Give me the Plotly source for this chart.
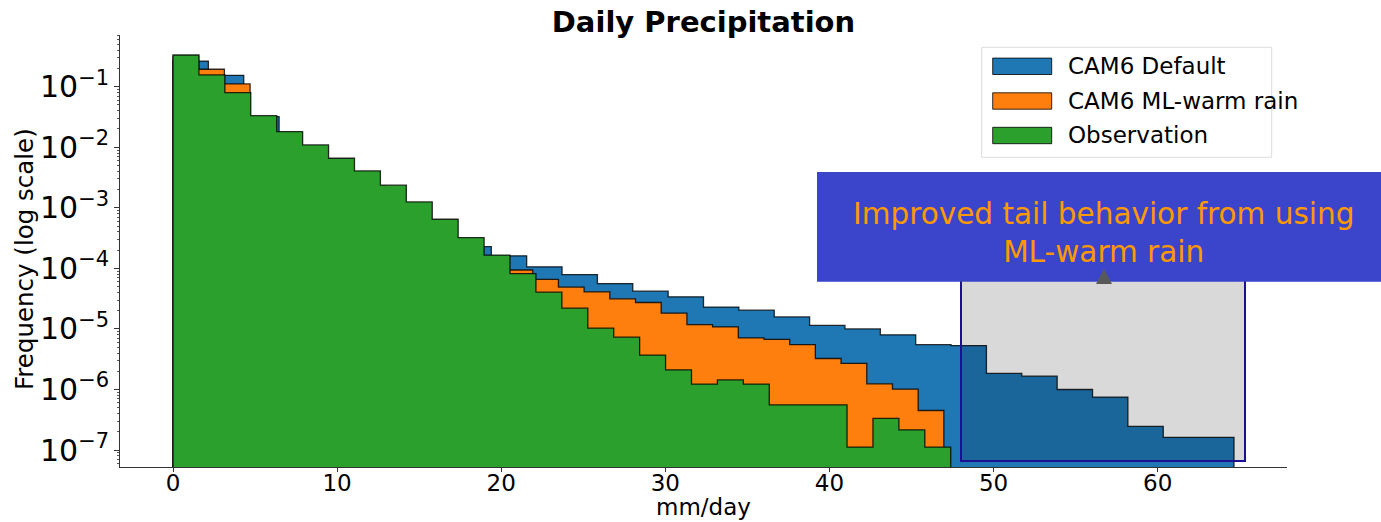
import numpy as np
import plotly.graph_objects as go

# ---------------- data ----------------
series_names = ["CAM6 Default", "CAM6 ML-warm rain", "Observation"]
series_colors = ["#1f77b4", "#ff7f0e", "#2ca02c"]

# each histogram uses 30 equal bins from 0 to its own maximum (mm/day)
default_max = 64.65
mlwarm_max = 46.97
obs_max = 47.39

default_freq = [0.265, 0.154, 0.032, 0.0105, 0.0062, 0.0023, 0.0012, 5.5e-4, 2.29e-4, 1.61e-4,
                1.06e-4, 7.9e-5, 5.6e-5, 4.2e-5, 3.39e-5, 2.29e-5, 2.04e-5, 1.58e-5, 1.14e-5, 1.0e-5,
                8.0e-6, 5.5e-6, 5.3e-6, 1.84e-6, 1.66e-6, 1.0e-6, 7.5e-7, 2.45e-7, 1.62e-7, 1.62e-7]

mlwarm_freq = [0.32, 0.194, 0.111, 0.031, 0.017, 0.0103, 0.0062, 0.0038, 0.0022, 0.00118,
               6.1e-4, 3.0e-4, 1.55e-4, 9.4e-5, 6.6e-5, 4.9e-5, 4.1e-5, 3.14e-5, 2.73e-5, 1.82e-5,
               1.18e-5, 1.08e-5, 7.1e-6, 6.7e-6, 5.5e-6, 3.25e-6, 2.69e-6, 1.24e-6, 1.01e-6, 4.5e-7]

obs_freq = [0.333, 0.156, 0.0796, 0.0332, 0.0181, 0.0109, 0.00658, 0.00406, 0.00236, 0.00125,
            6.47e-4, 3.22e-4, 1.65e-4, 8.2e-5, 4.04e-5, 2.2e-5, 1.03e-5, 7.3e-6, 3.7e-6, 2.11e-6,
            1.23e-6, 1.44e-6, 1.23e-6, 5.58e-7, 5.58e-7, 5.58e-7, 1.12e-7, 3.33e-7, 2.16e-7, 1.12e-7]

x_tick_vals = [0, 10, 20, 30, 40, 50, 60]

annotation_text = "Improved tail behavior from using<br>ML-warm rain"

# ---------------- figure ----------------
W, H = 1381, 522
ML, MR, MT, MB = 120, 94, 35, 55
PW, PH = W - ML - MR, H - MT - MB


def px(xp):
    return (xp - ML) / PW


def py(yp):
    return (H - MB - yp) / PH


BASE = 1e-9  # below the visible axis range, stepfilled baseline


def step_polygon(vmax, vals):
    edges = np.linspace(0, vmax, len(vals) + 1)
    xs, ys = [edges[0]], [BASE]
    for i, v in enumerate(vals):
        xs += [edges[i], edges[i + 1]]
        ys += [v, v]
    xs += [edges[-1], edges[0]]
    ys += [BASE, BASE]
    return xs, ys


fig = go.Figure()
for name, color, vmax, vals in zip(series_names, series_colors,
                                   [default_max, mlwarm_max, obs_max],
                                   [default_freq, mlwarm_freq, obs_freq]):
    xs, ys = step_polygon(vmax, vals)
    fig.add_trace(go.Scatter(x=xs, y=ys, mode="lines", fill="toself", fillcolor=color,
                             line=dict(color="rgba(0,0,0,0.8)", width=1.3),
                             name=name, showlegend=False, hoverinfo="skip"))

fig.update_layout(
    width=W, height=H,
    margin=dict(l=ML, r=MR, t=MT, b=MB, autoexpand=False),
    paper_bgcolor="white", plot_bgcolor="white",
    font=dict(family="DejaVu Sans", color="black"),
    title=dict(text="<b>Daily Precipitation</b>", x=(ML + PW / 2) / W, xanchor="center",
               y=1 - 22 / H, yanchor="middle", font=dict(size=29, family="DejaVu Sans")),
    showlegend=False,
)

fig.update_xaxes(range=[-3.23, 67.88], tickvals=x_tick_vals, ticks="outside", ticklen=4,
                 ticklabelstandoff=-9,
                 tickcolor="#333", showline=True, linecolor="#333", linewidth=1,
                 showgrid=False, zeroline=False, tickfont=dict(size=23), automargin=False)
fig.update_yaxes(type="log", range=[-7.28, -0.147], dtick=1, exponentformat="power",
                 ticks="outside", ticklen=5, tickcolor="#333",
                 minor=dict(ticks="outside", ticklen=2.5, tickcolor="#555", showgrid=False),
                 showline=True, linecolor="#333", linewidth=1, showgrid=False, zeroline=False,
                 tickfont=dict(size=24), automargin=False)

shapes = []
# highlighted tail region
shapes.append(dict(type="rect", xref="paper", yref="paper",
                   x0=px(961), x1=px(1245), y0=py(461), y1=py(268.3),
                   fillcolor="rgba(0,0,0,0.15)", line=dict(color="rgb(26,16,145)", width=2),
                   layer="above"))
# annotation box
shapes.append(dict(type="rect", xref="paper", yref="paper",
                   x0=px(817), x1=px(1381), y0=py(281.7), y1=py(172),
                   fillcolor="rgb(58,69,204)", line=dict(width=0), layer="above"))
# arrow head
shapes.append(dict(type="path", xref="paper", yref="paper",
                   path=f"M {px(1096)} {py(284)} L {px(1104)} {py(269)} L {px(1112)} {py(284)} Z",
                   fillcolor="rgb(89,89,89)", line=dict(width=0), layer="above"))

# legend
shapes.append(dict(type="rect", xref="paper", yref="paper",
                   x0=px(981.7), x1=px(1271.7), y0=py(157.3), y1=py(47.3),
                   fillcolor="rgba(255,255,255,0.9)", line=dict(color="#dcdcdc", width=1),
                   layer="above"))
row_y = [66.3, 101.0, 135.5]
annotations = []
for name, color, yc in zip(series_names, series_colors, row_y):
    shapes.append(dict(type="rect", xref="paper", yref="paper",
                       x0=px(992.7), x1=px(1051.7), y0=py(yc + 8.2), y1=py(yc - 8.2),
                       fillcolor=color, line=dict(color="rgba(0,0,0,0.8)", width=1),
                       layer="above"))
    annotations.append(dict(xref="paper", yref="paper", x=px(1066), y=py(yc),
                            xanchor="left", yanchor="middle", text=name, showarrow=False,
                            font=dict(size=23, family="DejaVu Sans", color="black")))

# axis titles, placed like the reference
annotations.append(dict(xref="paper", yref="paper", x=px(24), y=py(259),
                        xanchor="center", yanchor="middle", text="Frequency (log scale)",
                        textangle=-90, showarrow=False,
                        font=dict(size=24.5, family="DejaVu Sans", color="black")))
annotations.append(dict(xref="paper", yref="paper", x=px(703.5), y=py(507),
                        xanchor="center", yanchor="middle", text="mm/day",
                        showarrow=False,
                        font=dict(size=23, family="DejaVu Sans", color="black")))

annotations.append(dict(xref="paper", yref="paper", x=px(1103.5), y=py(233),
                        xanchor="center", yanchor="middle", text=annotation_text,
                        showarrow=False, align="center",
                        font=dict(size=29.5, family="DejaVu Sans", color="#ff9900")))

fig.update_layout(shapes=shapes, annotations=annotations)

fig.write_html("out.html")
